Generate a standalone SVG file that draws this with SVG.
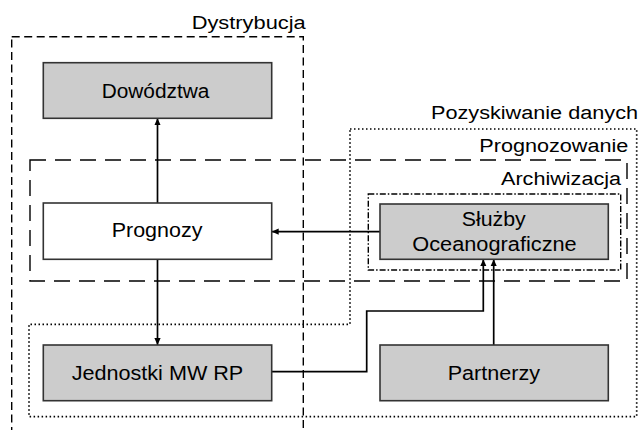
<svg xmlns="http://www.w3.org/2000/svg" width="640" height="430" viewBox="0 0 640 430">
<style>
.bg{fill:#ffffff}
.grp{fill:none;stroke:#000;stroke-width:1.4}
.dist{stroke-dasharray:8,4.5}
.prog{stroke-dasharray:16,9}
.pozy{stroke-dasharray:1.5,2.5;stroke-width:1.7}
.arch{stroke-dasharray:6,2,1.5,2}
.node{fill:#cccccc;stroke:#333;stroke-width:1.6}
.wnode{fill:#ffffff;stroke:#333;stroke-width:1.6}
.lbl{font-family:"Liberation Sans",Arial,sans-serif;font-size:18px;fill:#000}
.ntx{font-family:"Liberation Sans",Arial,sans-serif;font-size:20px;fill:#000}
.conn{fill:none;stroke:#000;stroke-width:1.7}
</style>
<defs>
<marker id="ah" viewBox="0 0 10 10" refX="10" refY="5" markerWidth="7" markerHeight="10" markerUnits="userSpaceOnUse" orient="auto">
<path d="M0,0.5 L10,5 L0,9.5 z" fill="#000"/>
</marker>
</defs>
<rect class="bg" x="0" y="0" width="640" height="430"/>
<g id="groups">
<rect class="grp dist" x="11.7" y="36.7" width="291.6" height="420"/>
<text class="lbl" x="191.7" y="29" textLength="114" lengthAdjust="spacingAndGlyphs">Dystrybucja</text>
<path class="grp pozy" d="M350,129 H636.7 V416.7 H29 V324.3 H350 Z"/>
<text class="lbl" x="431" y="119" textLength="207" lengthAdjust="spacingAndGlyphs">Pozyskiwanie danych</text>
<rect class="grp prog" x="30" y="160" width="597" height="121"/>
<text class="lbl" x="479.3" y="152.3" textLength="149" lengthAdjust="spacingAndGlyphs">Prognozowanie</text>
<rect class="grp arch" x="368.3" y="194" width="252.4" height="76"/>
<text class="lbl" x="501" y="185" textLength="120" lengthAdjust="spacingAndGlyphs">Archiwizacja</text>
</g>
<g id="connectors">
<line class="conn" x1="157.5" y1="203" x2="157.5" y2="118.3" marker-end="url(#ah)"/>
<line class="conn" x1="157.5" y1="259.3" x2="157.5" y2="345" marker-end="url(#ah)"/>
<line class="conn" x1="380" y1="231.7" x2="271.7" y2="231.7" marker-end="url(#ah)"/>
<path class="conn" d="M271.7,371.7 H366.7 V311 H483.3 V259.3" marker-end="url(#ah)"/>
<line class="conn" x1="493.7" y1="345" x2="493.7" y2="259.3" marker-end="url(#ah)"/>
</g>
<g id="dowodztwa">
<rect class="node" x="43.3" y="62.7" width="228.4" height="55.6"/>
<text class="ntx" x="101.7" y="97.7" textLength="107.7" lengthAdjust="spacingAndGlyphs">Dowództwa</text>
</g>
<g id="prognozy">
<rect class="wnode" x="43.3" y="203" width="228.4" height="56.3"/>
<text class="ntx" x="111.7" y="237.3" textLength="90.7" lengthAdjust="spacingAndGlyphs">Prognozy</text>
</g>
<g id="sluzby">
<rect class="node" x="380" y="204" width="228.3" height="55.3"/>
<text class="ntx" x="461.7" y="225.7" textLength="64" lengthAdjust="spacingAndGlyphs">Służby</text>
<text class="ntx" x="412.3" y="250.7" textLength="164.4" lengthAdjust="spacingAndGlyphs">Oceanograficzne</text>
</g>
<g id="jednostki">
<rect class="node" x="43.3" y="345" width="228.4" height="55.7"/>
<text class="ntx" x="71.7" y="380" textLength="171.6" lengthAdjust="spacingAndGlyphs">Jednostki MW RP</text>
</g>
<g id="partnerzy">
<rect class="node" x="380" y="345" width="228.3" height="55.7"/>
<text class="ntx" x="447.7" y="380" textLength="92.3" lengthAdjust="spacingAndGlyphs">Partnerzy</text>
</g>
</svg>
